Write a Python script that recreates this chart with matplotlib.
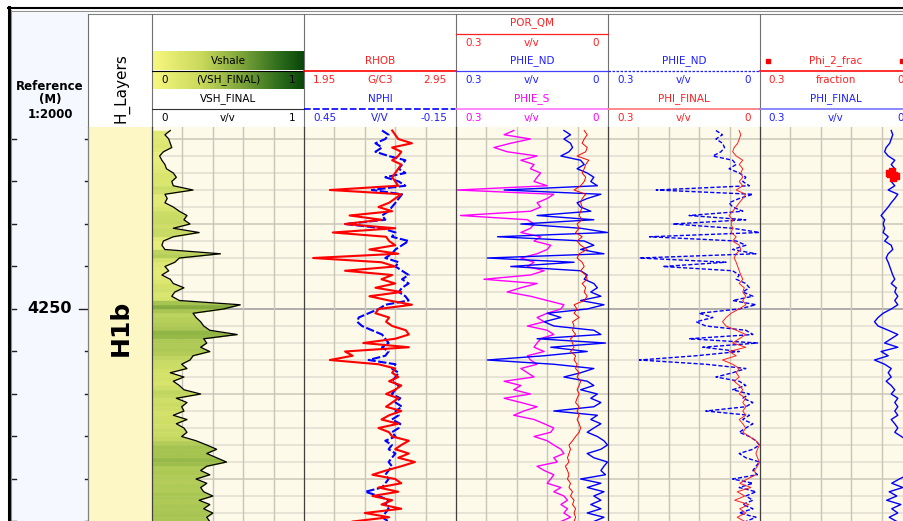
import numpy as np
import matplotlib
matplotlib.use("Agg")
import matplotlib.pyplot as plt
from matplotlib.patches import Rectangle
from matplotlib.colors import LinearSegmentedColormap

# ---- log data, sampled every 0.5 m from 4229.0 m ----
depth_top = 4229.0
depth_step = 0.5

vsh = [0.12, 0.085, 0.11, 0.12, 0.13, 0.075, 0.05, 0.065, 0.085, 0.095,
       0.14, 0.16, 0.13, 0.14, 0.27, 0.085, 0.10, 0.085, 0.14, 0.18,
       0.23, 0.21, 0.25, 0.14, 0.31, 0.14, 0.075, 0.065, 0.085, 0.45,
       0.18, 0.15, 0.085, 0.11, 0.065, 0.12, 0.14, 0.21, 0.15, 0.13,
       0.18, 0.58, 0.47, 0.27, 0.29, 0.32, 0.34, 0.38, 0.56, 0.34,
       0.36, 0.32, 0.38, 0.27, 0.25, 0.195, 0.23, 0.12, 0.21, 0.14,
       0.18, 0.21, 0.32, 0.16, 0.23, 0.195, 0.21, 0.14, 0.23, 0.16,
       0.21, 0.23, 0.195, 0.29, 0.36, 0.425, 0.36, 0.425, 0.49, 0.36,
       0.32, 0.38, 0.29, 0.36, 0.32, 0.34, 0.40, 0.31, 0.38, 0.34,
       0.40, 0.36, 0.38]

rhob = [2.53, 2.55, 2.57, 2.66, 2.53, 2.59, 2.57, 2.53, 2.59, 2.57,
        2.55, 2.53, 2.55, 2.57, 2.12, 2.59, 2.55, 2.51, 2.44, 2.53,
        2.25, 2.46, 2.22, 2.55, 2.14, 2.49, 2.51, 2.55, 2.38, 2.57,
        2.01, 2.46, 2.55, 2.22, 2.53, 2.46, 2.55, 2.42, 2.59, 2.38,
        2.51, 2.66, 2.44, 2.42, 2.51, 2.49, 2.53, 2.62, 2.64, 2.55,
        2.34, 2.64, 2.22, 2.27, 2.12, 2.44, 2.55, 2.53, 2.57, 2.51,
        2.59, 2.55, 2.49, 2.57, 2.53, 2.49, 2.59, 2.51, 2.46, 2.57,
        2.44, 2.51, 2.53, 2.64, 2.59, 2.55, 2.64, 2.57, 2.68, 2.59,
        2.49, 2.40, 2.55, 2.59, 2.44, 2.57, 2.40, 2.53, 2.46, 2.59,
        2.35, 2.51, 2.27]

nphi = [0.142, 0.116, 0.129, 0.168, 0.142, 0.168, 0.116, 0.05, 0.063, 0.076,
        0.05, 0.129, 0.076, 0.05, 0.182, 0.063, 0.076, 0.089, 0.103, 0.116,
        0.142, 0.129, 0.287, 0.142, 0.089, 0.103, 0.037, 0.063, 0.089, 0.103,
        0.129, 0.076, 0.089, 0.063, 0.037, 0.063, 0.037, 0.063, 0.076, 0.05,
        0.037, 0.129, 0.155, 0.195, 0.234, 0.24, 0.221, 0.182, 0.142, 0.129,
        0.116, 0.142, 0.116, 0.129, 0.195, 0.089, 0.103, 0.076, 0.089, 0.103,
        0.076, 0.089, 0.103, 0.07, 0.089, 0.063, 0.089, 0.076, 0.103, 0.07,
        0.076, 0.103, 0.089, 0.129, 0.103, 0.116, 0.089, 0.103, 0.116, 0.103,
        0.116, 0.129, 0.116, 0.129, 0.142, 0.208, 0.155, 0.116, 0.129, 0.116,
        0.129, 0.142, 0.116]

phie_s = [0.186, 0.205, 0.153, 0.192, 0.225, 0.199, 0.14, 0.172, 0.146, 0.153,
          0.133, 0.14, 0.146, 0.12, 0.297, 0.107, 0.12, 0.14, 0.133, 0.153,
          0.291, 0.159, 0.146, 0.153, 0.172, 0.133, 0.146, 0.113, 0.12, 0.14,
          0.172, 0.146, 0.159, 0.126, 0.153, 0.245, 0.14, 0.172, 0.199, 0.153,
          0.12, 0.087, 0.093, 0.12, 0.14, 0.126, 0.159, 0.12, 0.107, 0.133,
          0.14, 0.146, 0.126, 0.159, 0.153, 0.14, 0.172, 0.159, 0.146, 0.205,
          0.172, 0.186, 0.153, 0.205, 0.172, 0.14, 0.166, 0.186, 0.146, 0.126,
          0.107, 0.113, 0.146, 0.12, 0.107, 0.093, 0.087, 0.107, 0.10, 0.14,
          0.126, 0.107, 0.113, 0.12, 0.093, 0.107, 0.087, 0.08, 0.093, 0.08,
          0.087, 0.074, 0.093]

por_qm = [0.047, 0.041, 0.047, 0.051, 0.041, 0.044, 0.061, 0.038, 0.044, 0.047,
          0.051, 0.044, 0.047, 0.054, 0.067, 0.044, 0.051, 0.054, 0.051, 0.054,
          0.057, 0.051, 0.061, 0.057, 0.064, 0.051, 0.061, 0.054, 0.041, 0.057,
          0.061, 0.051, 0.047, 0.054, 0.044, 0.041, 0.051, 0.044, 0.047, 0.041,
          0.047, 0.067, 0.061, 0.067, 0.057, 0.07, 0.067, 0.07, 0.064, 0.074,
          0.07, 0.067, 0.074, 0.064, 0.067, 0.061, 0.064, 0.057, 0.061, 0.054,
          0.057, 0.061, 0.057, 0.061, 0.064, 0.057, 0.061, 0.057, 0.061, 0.057,
          0.054, 0.057, 0.064, 0.07, 0.077, 0.074, 0.077, 0.08, 0.077, 0.084,
          0.08, 0.077, 0.08, 0.074, 0.077, 0.07, 0.074, 0.067, 0.07, 0.064,
          0.067, 0.064, 0.067]

phie_nd = [0.087, 0.074, 0.087, 0.074, 0.07, 0.077, 0.093, 0.054, 0.047, 0.061,
           0.041, 0.028, 0.034, 0.021, 0.205, 0.014, 0.041, 0.061, 0.054, 0.034,
           0.14, 0.028, 0.172, 0.054, 0.001, 0.218, 0.047, 0.028, 0.054, 0.008,
           0.238, 0.067, 0.192, 0.054, 0.041, 0.047, 0.028, 0.021, 0.034, 0.014,
           0.054, 0.008, 0.041, 0.12, 0.093, 0.126, 0.107, 0.028, 0.014, 0.14,
           0.005, 0.113, 0.041, 0.126, 0.238, 0.107, 0.028, 0.054, 0.087, 0.041,
           0.028, 0.054, 0.021, 0.034, 0.014, 0.028, 0.107, 0.021, 0.034, 0.014,
           0.028, 0.041, 0.021, 0.008, 0.001, 0.014, 0.041, 0.028, 0.001, 0.008,
           0.014, 0.005, 0.054, 0.014, 0.041, 0.008, 0.028, 0.014, 0.034, 0.014,
           0.041, 0.008, 0.028]

phi_final = [0.041, 0.038, 0.041, 0.044, 0.051, 0.054, 0.047, 0.034, 0.041, 0.034,
             0.038, 0.034, 0.041, 0.034, 0.047, 0.028, 0.034, 0.041, 0.047, 0.054,
             0.061, 0.054, 0.057, 0.054, 0.057, 0.047, 0.054, 0.041, 0.038, 0.047,
             0.051, 0.047, 0.044, 0.041, 0.038, 0.034, 0.041, 0.031, 0.034, 0.028,
             0.034, 0.028, 0.041, 0.057, 0.067, 0.074, 0.067, 0.047, 0.028, 0.041,
             0.054, 0.028, 0.061, 0.047, 0.074, 0.054, 0.041, 0.047, 0.041, 0.051,
             0.041, 0.034, 0.041, 0.028, 0.034, 0.028, 0.034, 0.028, 0.041, 0.034,
             0.028, 0.034, 0.021, 0.008, 0.001, 0.005, 0.008, 0.005, 0.001, 0.005,
             0.011, 0.008, 0.025, 0.04, 0.018, 0.045, 0.03, 0.05, 0.022, 0.04,
             0.028, 0.045, 0.03]

phi2_depth = [4233.8, 4233.95, 4234.1, 4234.25, 4234.4, 4234.55]
phi2_frac = [0.040, 0.046, 0.043, 0.036, 0.031, 0.038]

depth = depth_top + depth_step * np.arange(len(vsh))

# ---- layout (pixel based) ----
W, H = 904, 521
fig = plt.figure(figsize=(W / 100, H / 100), dpi=100)
fig.patch.set_facecolor("white")

# 4250 m sits at y=309 px, 8.5 px per metre
D0 = 4250 + (127 - 309) / 8.5
D1 = 4250 + (H - 309) / 8.5

RED = "#ff2020"
BLUE = "#2020ff"
MAG = "#ff00ff"


def px_axes(x0, y0, x1, y1, z=1):
    return fig.add_axes([x0 / W, 1 - y1 / H, (x1 - x0) / W, (y1 - y0) / H], zorder=z)


def hide(ax):
    for s in ax.spines.values():
        s.set_visible(False)
    ax.set_xticks([])
    ax.set_yticks([])


bg = px_axes(0, 0, W, H, z=0)
bg.set_xlim(0, W)
bg.set_ylim(H, 0)
bg.axis("off")
bg.add_patch(Rectangle((12, 13), 76, H - 13, fc="#f5f8ff", ec="none"))
bg.add_patch(Rectangle((88, 127), 64, H - 127, fc="#fdf7c6", ec="none"))

# vshale header gradient
grad_cmap = LinearSegmentedColormap.from_list(
    "vsh", [(0, "#f8f880"), (0.33, "#c8d85a"), (0.6, "#7aa23a"), (0.85, "#2a6a1a"), (1, "#0a460a")])
fill_cmap = LinearSegmentedColormap.from_list(
    "vshfill", [(0, "#f2f486"), (0.15, "#d8e46c"), (0.4, "#a2c24e"), (0.7, "#5e8e2c"), (1, "#0a460a")])
g = np.linspace(0, 1, 256)[None, :]
bg.imshow(g, cmap=grad_cmap, extent=[152, 304, 70.5, 52], aspect="auto", zorder=1)
bg.imshow(g, cmap=grad_cmap, extent=[152, 304, 89, 71.5], aspect="auto", zorder=1)
bg.set_xlim(0, W)
bg.set_ylim(H, 0)


def body(x0, x1, lo, hi, z=2):
    ax = px_axes(x0, 127, x1, H, z=z)
    ax.set_facecolor("#fdfaea")
    ax.set_xlim(lo, hi)
    ax.set_ylim(D1, D0)
    hide(ax)
    for x in np.linspace(lo, hi, 6)[1:-1]:
        ax.axvline(x, color="#c9c6b8", lw=1.0, zorder=1)
    for d in np.arange(4230, 4276, 2):
        if d == 4250:
            c = "#a8a8a8"
        elif d % 10 == 0:
            c = "#d2cfc2"
        else:
            c = "#e5e2d6"
        ax.axhline(d, color=c, lw=1.3, zorder=0.9)
    return ax


# Vshale
ax3 = body(152, 304, 0, 1)
for i in range(len(depth) - 1):
    ax3.fill_betweenx(depth[i:i + 2], 0, vsh[i:i + 2],
                      color=fill_cmap((vsh[i] + vsh[i + 1]) / 2), lw=0.3, zorder=1.5)
ax3.plot(vsh, depth, color="black", lw=0.9, zorder=3)

# RHOB / NPHI
ax4 = body(304, 456, 1.95, 2.95)
ax4n = ax4.twiny()
ax4n.set_zorder(2.5)
ax4n.patch.set_visible(False)
ax4n.set_xlim(0.45, -0.15)
hide(ax4n)
ax4n.plot(nphi, depth, color="#0000ff", lw=1.5, ls=(0, (4, 1.2)))
ax4top = px_axes(304, 127, 456, H, z=2.6)
ax4top.patch.set_visible(False)
hide(ax4top)
ax4top.set_xlim(1.95, 2.95)
ax4top.set_ylim(D1, D0)
ax4top.plot(rhob, depth, color="#ff0000", lw=1.5)

# POR_QM / PHIE_ND / PHIE_S
ax5 = body(456, 608, 0.3, 0)
ax5.plot(phie_s, depth, color=MAG, lw=1.0, zorder=3)
ax5.plot(phie_nd, depth, color="#0000ff", lw=1.0, zorder=3)
ax5.plot(por_qm, depth, color="#ff0000", lw=0.7, zorder=3)

# PHIE_ND / PHI_FINAL
ax6 = body(608, 760, 0.3, 0)
ax6.plot(phie_nd, depth, color="#0000ff", lw=1.0, ls=(0, (3, 1.5)), zorder=3)
ax6.plot(phi_final, depth, color="#ff2020", lw=0.7, zorder=3)

# Phi_2_frac / PHI_FINAL
ax7 = body(760, 912, 0.3, 0)
ax7.plot(phi_final, depth, color="#0000ff", lw=1.0, zorder=3)
ax7.plot(phi2_frac, phi2_depth, color="#ff0000", lw=2, marker="s", ms=4, zorder=4)

# depth track ticks
axd = px_axes(12, 127, 88, H, z=3)
axd.patch.set_visible(False)
hide(axd)
axd.set_xlim(0, 76)
axd.set_ylim(D1, D0)
for d in np.arange(4230, 4276, 5):
    axd.plot([0, 4], [d, d], color="#202020", lw=1)
    axd.plot([67 if d == 4250 else 73, 76], [d, d], color="#202020", lw=1)
axd.text(60, 4250, "4250", ha="right", va="center", fontsize=11.5, fontweight="bold")

# ---- foreground: frame, dividers, header text ----
fg = px_axes(0, 0, W, H, z=5)
fg.patch.set_visible(False)
fg.axis("off")
fg.set_xlim(0, W)
fg.set_ylim(H, 0)

fg.plot([8, W], [7.5, 7.5], color="black", lw=1.5)
fg.plot([9, 9], [7, H], color="black", lw=2.2)
fg.plot([11.5, 11.5], [10, H], color="#909090", lw=0.8)
fg.plot([11, W], [10.5, 10.5], color="#909090", lw=0.8)
fg.plot([88, W], [13.5, 13.5], color="#808080", lw=0.8)
for x in [88, 152, 304, 456, 608, 760]:
    fg.plot([x, x], [13.5, 127], color="#707070", lw=0.8)
    fg.plot([x, x], [127, H], color="#808080" if x == 88 else "#404040", lw=0.9)

fg.text(50, 87, "Reference", ha="center", va="center", fontsize=8.5, fontweight="bold")
fg.text(50, 100, "(M)", ha="center", va="center", fontsize=8.5, fontweight="bold")
fg.text(50, 115, "1:2000", ha="center", va="center", fontsize=8.5, fontweight="bold")
fg.text(121, 88, "H_Layers", ha="center", va="center", rotation=90, fontsize=11)
fg.text(121, 328, "H1b", ha="center", va="center", rotation=90, fontsize=18, fontweight="bold")


def htxt(x, y, s, color, ha="center"):
    fg.text(x, y, s, color=color, ha=ha, va="center", fontsize=7.5)


def scale_row(x0, x1, y, left, unit, right, color):
    htxt(x0 + 9, y, left, color, ha="left")
    htxt((x0 + x1) / 2, y, unit, color)
    htxt(x1 - 9, y, right, color, ha="right")


# Vshale header
htxt(228, 61, "Vshale", "black")
fg.plot([152, 304], [71, 71], color="black", lw=0.8)
scale_row(152, 304, 80, "0", "(VSH_FINAL)", "1", "black")
htxt(228, 99, "VSH_FINAL", "black")
fg.plot([152, 304], [109, 109], color="#303030", lw=0.8)
scale_row(152, 304, 118, "0", "v/v", "1", "black")

# RHOB / NPHI header
htxt(380, 61, "RHOB", RED)
fg.plot([304, 456], [70.5, 70.5], color="#ff0000", lw=1.2)
scale_row(304, 456, 80, "1.95", "G/C3", "2.95", RED)
htxt(380, 99, "NPHI", BLUE)
fg.plot([304, 456], [108.5, 108.5], color="#0000ff", lw=1.2, ls=(0, (4, 1.5)))
scale_row(304, 456, 118, "0.45", "V/V", "-0.15", BLUE)

# POR_QM / PHIE_ND / PHIE_S header
htxt(532, 23, "POR_QM", RED)
fg.plot([456, 608], [33.5, 33.5], color="#ff2020", lw=0.9)
scale_row(456, 608, 43, "0.3", "v/v", "0", RED)
htxt(532, 61, "PHIE_ND", BLUE)
fg.plot([456, 608], [70.5, 70.5], color="#4040ff", lw=0.9)
scale_row(456, 608, 80, "0.3", "v/v", "0", BLUE)
htxt(532, 99, "PHIE_S", MAG)
fg.plot([456, 608], [108.5, 108.5], color="#ff80ff", lw=1.3)
scale_row(456, 608, 118, "0.3", "v/v", "0", MAG)

# PHIE_ND / PHI_FINAL header
htxt(684, 61, "PHIE_ND", BLUE)
fg.plot([608, 760], [70.5, 70.5], color="#2020ff", lw=0.9, ls=(0, (2, 1.2)))
scale_row(608, 760, 80, "0.3", "v/v", "0", BLUE)
htxt(684, 99, "PHI_FINAL", RED)
fg.plot([608, 760], [108.5, 108.5], color="#ff8080", lw=1.3)
scale_row(608, 760, 118, "0.3", "v/v", "0", RED)

# Phi_2_frac / PHI_FINAL header
htxt(836, 61, "Phi_2_frac", RED)
fg.plot([768, 902], [60.5, 60.5], ls="none", marker="s", ms=2.5, color="#ff0000")
fg.plot([760, W], [70.5, 70.5], color="#ff2020", lw=1.3)
htxt(768, 80, "0.3", RED, ha="left")
htxt(836, 80, "fraction", RED)
htxt(897, 80, "0", RED, ha="left")
htxt(836, 99, "PHI_FINAL", BLUE)
fg.plot([760, W], [108.5, 108.5], color="#8080ff", lw=1.3)
htxt(768, 118, "0.3", BLUE, ha="left")
htxt(836, 118, "v/v", BLUE)
htxt(897, 118, "0", BLUE, ha="left")

fig.savefig("out.png", dpi=100)
